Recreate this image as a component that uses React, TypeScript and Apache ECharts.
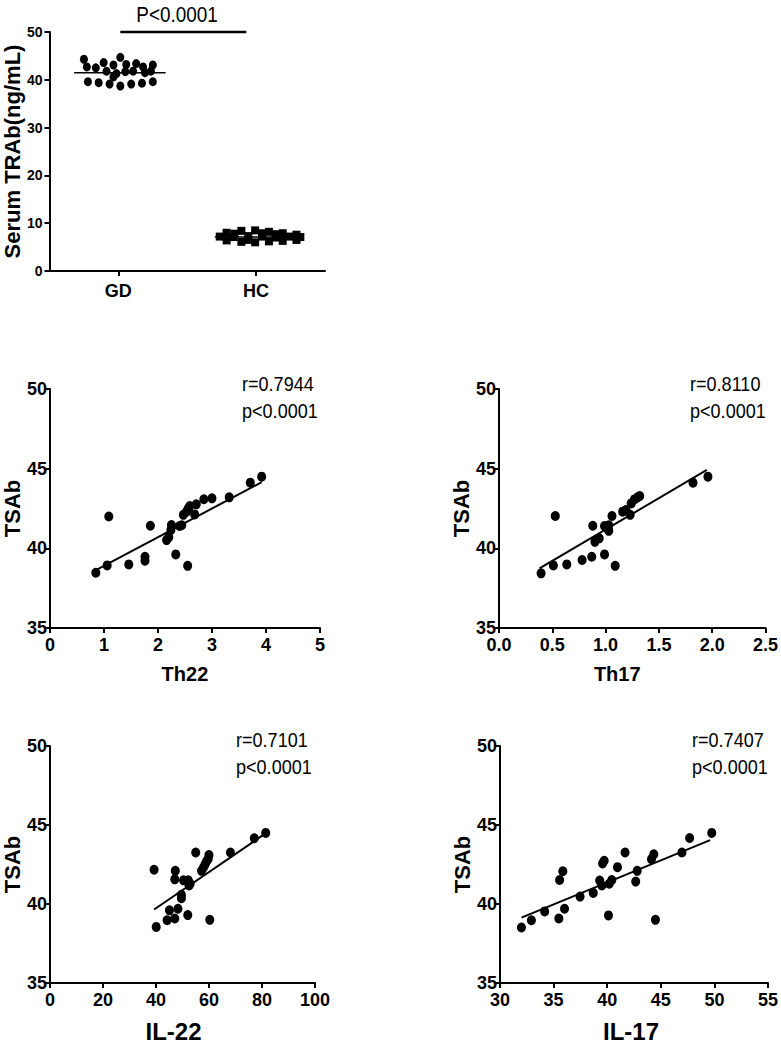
import React, { useEffect, useRef } from "react";
import * as echarts from "echarts";

// ---------- Top panel: Serum TRAb, GD vs HC ----------
const groups = ["GD", "HC"];
const gdX = [0.25, 0.514, 0.393, 0.464, 0.557, 0.629, 0.75, 0.271, 0.336, 0.679, 0.414, 0.486, 0.55, 0.607, 0.693, 0.736, 0.464, 0.279, 0.357, 0.436, 0.514, 0.593, 0.671, 0.75];
const gdY = [44.3, 44.7, 43.6, 43.1, 43.2, 43.4, 43.1, 42.7, 42.5, 42.7, 41.8, 41.3, 41.7, 41.8, 41.5, 41.8, 40.6, 39.6, 39.4, 39.1, 38.7, 39.1, 39.3, 39.6];
const hcX = [1.286, 1.393, 1.493, 1.593, 1.693, 1.793, 1.236, 1.336, 1.443, 1.543, 1.643, 1.743, 1.821, 1.286, 1.393, 1.493, 1.593, 1.693, 1.793, 1.343, 1.543, 1.443, 1.643];
const hcY = [8.0, 8.4, 8.5, 8.2, 7.9, 7.6, 7.2, 7.1, 7.3, 7.2, 7.0, 7.2, 7.1, 6.4, 6.1, 6.0, 6.2, 6.3, 6.5, 7.8, 7.9, 6.5, 7.7];
const gdMedian = 41.5;
const gdMedianSpan = [0.179, 0.843];
const hcMedian = 7.1;
const hcMedianSpan = [1.2, 1.836];
const pBarSpan = [0.514, 1.429];
const pBarLevel = 50;
const pText = "P<0.0001";

// ---------- Correlation panels ----------
const th22X = [0.85, 1.06, 1.09, 1.46, 1.76, 1.76, 1.86, 2.16, 2.2, 2.25, 2.24, 2.33, 2.4, 2.44, 2.47, 2.55, 2.53, 2.56, 2.59, 2.68, 2.71, 2.85, 3.0, 3.32, 3.71, 3.92];
const th22Y = [38.47, 38.93, 42.0, 38.99, 39.47, 39.22, 41.42, 40.52, 40.69, 41.46, 41.15, 39.62, 41.4, 41.45, 42.1, 38.9, 42.3, 42.5, 42.65, 42.13, 42.76, 43.08, 43.14, 43.2, 44.12, 44.5];
const th22Fit = { x: [0.86, 3.92], y: [38.65, 44.15] };

const th17X = [0.395, 0.51, 0.528, 0.636, 0.78, 0.87, 0.88, 0.9, 0.94, 0.99, 1.02, 1.03, 1.03, 0.99, 1.06, 1.09, 1.16, 1.19, 1.23, 1.24, 1.27, 1.3, 1.32, 1.82, 1.96];
const th17Y = [38.43, 38.93, 42.03, 38.99, 39.27, 39.47, 41.42, 40.41, 40.63, 41.4, 41.25, 41.1, 41.45, 39.62, 42.03, 38.9, 42.3, 42.4, 42.1, 42.82, 43.07, 43.2, 43.28, 44.12, 44.5];
const th17Fit = { x: [0.38, 1.95], y: [38.74, 44.92] };

const il22X = [40.1, 39.3, 44.2, 45.1, 47.1, 48.3, 47.3, 47.1, 49.6, 49.6, 50.4, 52.0, 52.2, 52.9, 52.5, 55.0, 57.2, 57.9, 58.5, 59.1, 60.0, 59.7, 60.3, 68.1, 77.1, 81.4];
const il22Y = [38.55, 42.17, 38.97, 39.6, 39.08, 39.7, 42.1, 41.56, 40.58, 40.37, 41.5, 39.3, 41.5, 41.28, 41.17, 43.26, 42.1, 42.3, 42.5, 42.7, 43.1, 42.85, 39.0, 43.26, 44.16, 44.5];
const il22Fit = { x: [39.3, 81.2], y: [39.65, 44.45] };

const il17X = [32.0, 32.93, 34.17, 35.49, 36.02, 35.56, 35.86, 37.47, 38.7, 39.3, 39.57, 39.72, 39.5, 40.19, 40.43, 40.12, 40.96, 41.67, 42.66, 42.8, 44.13, 44.35, 44.5, 46.97, 47.69, 49.75];
const il17Y = [38.51, 38.97, 39.53, 39.08, 39.7, 41.52, 42.07, 40.47, 40.7, 41.48, 42.57, 42.74, 41.17, 41.28, 41.52, 39.28, 42.33, 43.26, 41.42, 42.1, 42.84, 43.15, 39.0, 43.26, 44.18, 44.5];
const il17Fit = { x: [32.0, 49.6], y: [39.14, 44.04] };

const panelNames = ["Th22", "Th17", "IL-22", "IL-17"];
const rTexts = ["r=0.7944", "r=0.8110", "r=0.7101", "r=0.7407"];
const pTexts = ["p<0.0001", "p<0.0001", "p<0.0001", "p<0.0001"];
const tsabMin = 35;
const tsabMax = 50;
const tsabStep = 5;

const SANS = "'Liberation Sans', Arial, sans-serif";

const zip = (xs: number[], ys: number[]) => xs.map((x, i) => [x, ys[i]]);

const axisLine = { show: true, onZero: false, lineStyle: { color: "#000", width: 2 } };
const axisTick = { show: true, length: 5, lineStyle: { color: "#000", width: 2 } };

function scatterX(grid: number, min: number, max: number, interval: number, name: string, fmt: ((v: number) => string) | null, nameSize: number, pad: number[]) {
  return {
    gridIndex: grid,
    type: "value",
    min,
    max,
    interval,
    name,
    nameLocation: "middle",
    nameGap: 36,
    nameTextStyle: { fontFamily: SANS, fontWeight: "bold", fontSize: nameSize, color: "#000", padding: pad },
    axisLine,
    axisTick,
    splitLine: { show: false },
    axisLabel: {
      margin: 8,
      fontFamily: SANS,
      fontWeight: "bold",
      fontSize: 18,
      color: "#000",
      formatter: fmt || undefined,
    },
  };
}

function scatterY(grid: number) {
  return {
    gridIndex: grid,
    type: "value",
    min: tsabMin,
    max: tsabMax,
    interval: tsabStep,
    name: "TSAb",
    nameLocation: "middle",
    nameGap: 25,
    nameTextStyle: { fontFamily: SANS, fontWeight: "bold", fontSize: 22, color: "#000" },
    axisLine,
    axisTick,
    splitLine: { show: false },
    axisLabel: { margin: 3, fontFamily: SANS, fontWeight: "bold", fontSize: 18, color: "#000" },
  };
}

function dots(xAxisIndex: number, yAxisIndex: number, data: number[][]) {
  return {
    type: "scatter",
    xAxisIndex,
    yAxisIndex,
    data,
    symbol: "circle",
    symbolSize: [9, 10],
    itemStyle: { color: "#000", opacity: 1 },
  };
}

function fitLine(xAxisIndex: number, yAxisIndex: number, fit: { x: number[]; y: number[] }) {
  return {
    type: "line",
    xAxisIndex,
    yAxisIndex,
    data: zip(fit.x, fit.y),
    symbol: "none",
    lineStyle: { color: "#000", width: 2 },
  };
}

const statPos = [
  { x: 242, y1: 383, y2: 410 },
  { x: 690, y1: 383, y2: 410 },
  { x: 236, y1: 739, y2: 766 },
  { x: 692, y1: 739, y2: 766 },
];

function narrowText(text: string, x: number, y: number, size: number, align: string) {
  return {
    type: "text",
    x,
    y,
    scaleX: 0.86,
    style: {
      text,
      x: 0,
      y: 0,
      textAlign: align,
      textVerticalAlign: "middle",
      fontFamily: SANS,
      fontSize: size,
      fill: "#000",
    },
  };
}

export default function App() {
  const ref = useRef<HTMLDivElement>(null);
  useEffect(() => {
    if (!ref.current) return;
    const chart = echarts.init(ref.current, null, { renderer: "svg" });

    const graphics: any[] = [narrowText(pText, 177, 14, 22, "center")];
    statPos.forEach((p, i) => {
      graphics.push(narrowText(rTexts[i], p.x, p.y1, 21, "left"));
      graphics.push(narrowText(pTexts[i], p.x, p.y2, 21, "left"));
    });

    const option: any = {
      animation: false,
      backgroundColor: "#fff",
      grid: [
        { left: 45, top: 32, width: 280, height: 239 },
        { left: 47, top: 389, width: 273, height: 239 },
        { left: 499, top: 389, width: 270, height: 239 },
        { left: 46, top: 746, width: 269, height: 239 },
        { left: 500, top: 746, width: 270, height: 239 },
      ],
      xAxis: [
        {
          gridIndex: 0,
          type: "category",
          data: groups,
          boundaryGap: true,
          axisLine,
          axisTick: { ...axisTick, alignWithLabel: true },
          axisLabel: { margin: 11, fontFamily: SANS, fontWeight: "bold", fontSize: 18, color: "#000" },
          splitLine: { show: false },
        },
        { gridIndex: 0, type: "value", min: 0, max: 2, show: false },
        scatterX(1, 0, 5, 1, panelNames[0], null, 20, [0, 0, 0, 0]),
        scatterX(2, 0, 2.5, 0.5, panelNames[1], (v: number) => v.toFixed(1), 20, [0, 30, 0, 0]),
        scatterX(3, 0, 100, 20, panelNames[2], null, 24, [0, 18, 0, 0]),
        scatterX(4, 30, 55, 5, panelNames[3], null, 24, [0, 6, 0, 0]),
      ],
      yAxis: [
        {
          gridIndex: 0,
          type: "value",
          min: 0,
          max: 50,
          interval: 10,
          name: "Serum TRAb(ng/mL)",
          nameLocation: "middle",
          nameGap: 24,
          nameTextStyle: { fontFamily: SANS, fontWeight: "bold", fontSize: 22, color: "#000" },
          axisLine,
          axisTick,
          splitLine: { show: false },
          axisLabel: { margin: 7, fontFamily: SANS, fontWeight: "bold", fontSize: 14, color: "#000" },
        },
        scatterY(1),
        scatterY(2),
        scatterY(3),
        scatterY(4),
      ],
      series: [
        {
          type: "scatter",
          xAxisIndex: 1,
          yAxisIndex: 0,
          data: zip(gdX, gdY),
          symbol: "circle",
          symbolSize: [8, 9],
          itemStyle: { color: "#000", opacity: 1 },
        },
        {
          type: "scatter",
          xAxisIndex: 1,
          yAxisIndex: 0,
          data: zip(hcX, hcY),
          symbol: "rect",
          symbolSize: [8, 8],
          itemStyle: { color: "#000", opacity: 1 },
        },
        {
          type: "line",
          xAxisIndex: 1,
          yAxisIndex: 0,
          data: gdMedianSpan.map((x) => [x, gdMedian]),
          symbol: "none",
          lineStyle: { color: "#000", width: 1.5 },
        },
        {
          type: "line",
          xAxisIndex: 1,
          yAxisIndex: 0,
          data: hcMedianSpan.map((x) => [x, hcMedian]),
          symbol: "none",
          lineStyle: { color: "#000", width: 1.5 },
        },
        {
          type: "line",
          xAxisIndex: 1,
          yAxisIndex: 0,
          data: pBarSpan.map((x) => [x, pBarLevel]),
          symbol: "none",
          clip: false,
          lineStyle: { color: "#000", width: 2.5 },
        },
        dots(2, 1, zip(th22X, th22Y)),
        fitLine(2, 1, th22Fit),
        dots(3, 2, zip(th17X, th17Y)),
        fitLine(3, 2, th17Fit),
        dots(4, 3, zip(il22X, il22Y)),
        fitLine(4, 3, il22Fit),
        dots(5, 4, zip(il17X, il17Y)),
        fitLine(5, 4, il17Fit),
      ],
      graphic: graphics,
    };
    chart.setOption(option);
    return () => chart.dispose();
  }, []);
  return (
    <div
      ref={ref}
      style={{ position: "absolute", left: 0, top: 0, width: 781, height: 1044, background: "#fff" }}
    />
  );
}
